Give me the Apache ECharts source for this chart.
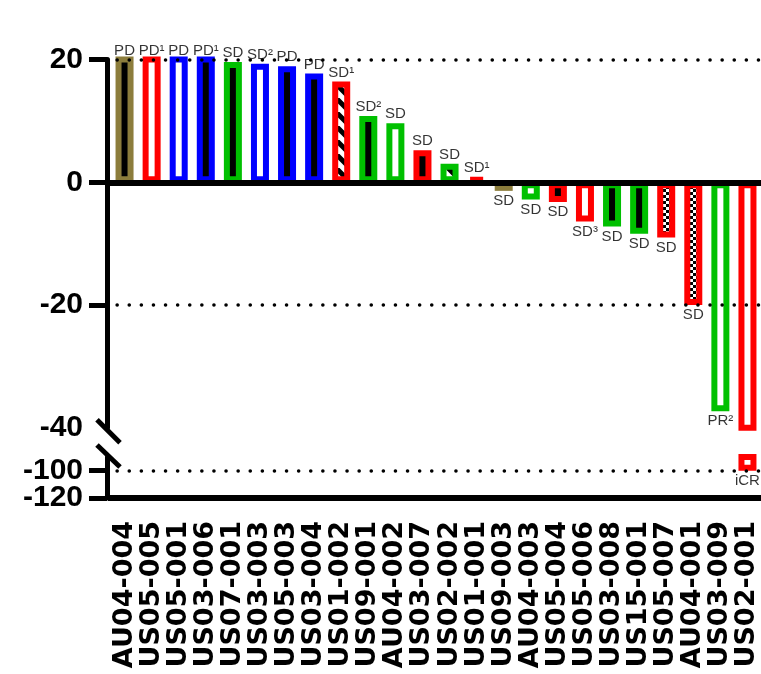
<!DOCTYPE html>
<html>
<head>
<meta charset="utf-8">
<script src="https://cdn.jsdelivr.net/npm/echarts@6/dist/echarts.min.js"></script>
<style>
  html, body { margin: 0; padding: 0; background: #fff; }
  #main { width: 761px; height: 674px; }
</style>
</head>
<body>
<div id="main"></div>
<script>
// patients, left to right
const patients = ['AU04-004', 'US05-005', 'US05-001', 'US03-006', 'US07-001', 'US03-003', 'US05-003', 'US03-004',
  'US01-002', 'US09-001', 'AU04-002', 'US03-007', 'US02-002', 'US01-001', 'US09-003', 'AU04-003',
  'US05-004', 'US05-006', 'US03-008', 'US15-001', 'US05-007', 'AU04-001', 'US03-009', 'US02-001']
// best change from baseline (%) - first four run past the top of the axis
const changes = [22, 22, 22, 22, 19.6, 19.3, 18.9, 17.7, 16.4, 10.8, 9.6, 5.2, 3.0, 0.8,
  -1.4, -2.8, -3.2, -6.4, -7.2, -8.4, -9.0, -20.0, -37.3, -100]
// response written at the end of each bar
const responses = ['PD', 'PD¹', 'PD', 'PD¹', 'SD', 'SD²', 'PD', 'PD', 'SD¹', 'SD²', 'SD', 'SD', 'SD', 'SD¹',
  'SD', 'SD', 'SD', 'SD³', 'SD', 'SD', 'SD', 'SD', 'PR²', 'iCR']
const upperTicks = [-40, -20, 0, 20]
const lowerTicks = [-120, -100]
const refLines = [20, -20, -100]

// bar styles
const OLIVE = '#8c7d3c'
const RED = '#ff0000'
const BLUE = '#0000ff'
const GREEN = '#00c000'
const edge = [OLIVE, RED, BLUE, BLUE, GREEN, BLUE, BLUE, BLUE, RED, GREEN, GREEN, RED, GREEN, RED,
  OLIVE, GREEN, RED, RED, GREEN, GREEN, RED, RED, GREEN, RED]
const fill = ['black', 'white', 'white', 'black', 'black', 'white', 'black', 'black', 'stripes', 'black', 'white', 'black', 'stripes', 'white',
  'black', 'white', 'black', 'white', 'black', 'black', 'checks', 'checks', 'white', 'white']

const GRID_LEFT = 111
const AXIS_OFFSET = 4
const UPPER = { min: -40, max: 20 }
const LOWER = { min: -120, max: -90 }

// canvas patterns for hatched / checkered bars
const makePattern = (kind) => {
  const c = document.createElement('canvas')
  if (kind === 'checks') {
    c.width = c.height = 6
    const g = c.getContext('2d')
    g.fillStyle = '#fff'
    g.fillRect(0, 0, 6, 6)
    g.fillStyle = '#000'
    g.fillRect(0, 0, 3, 3)
    g.fillRect(3, 3, 3, 3)
  } else {
    c.width = c.height = 14
    const g = c.getContext('2d')
    g.fillStyle = '#fff'
    g.fillRect(0, 0, 14, 14)
    g.strokeStyle = '#000'
    g.lineWidth = 5
    g.beginPath()
    for (let o = -14; o <= 14; o += 14) {
      g.moveTo(o, 0)
      g.lineTo(o + 14, 14)
    }
    g.stroke()
  }
  return { image: c, repeat: 'repeat' }
}
const fills = { black: '#000', white: '#fff', stripes: makePattern('stripes'), checks: makePattern('checks') }

const barData = changes.map((v, i) => ({
  value: v,
  itemStyle: { color: fills[fill[i]], borderColor: edge[i] }
}))

// label points: bars that end inside the upper part get their label there, the rest in the lower part
const labelPoints = (range) => {
  const out = []
  changes.forEach((v, i) => {
    const inUpper = v >= UPPER.min
    if ((range === UPPER) !== inUpper) return
    out.push({
      value: [i, Math.min(Math.max(v, range.min), range.max)],
      label: { position: v >= 0 ? 'top' : 'bottom', distance: v >= 0 ? 1 : 2 }
    })
  })
  return out
}

const dotted = (list, range) => ({
  silent: true,
  symbol: 'none',
  label: { show: false },
  lineStyle: { color: '#000', width: 3.5, type: [0.1, 12], cap: 'round', dashOffset: 6 },
  data: list.filter(v => v >= range.min && v <= range.max).map(v => ({ yAxis: v }))
})

const yAxisBase = (grid, range, ticks, showLine) => ({
  type: 'value',
  gridIndex: grid,
  position: 'left',
  min: range.min,
  max: range.max,
  interval: 10,
  offset: AXIS_OFFSET,
  splitLine: { show: false },
  axisLine: { show: showLine, lineStyle: { color: '#000', width: 5, cap: 'round' } },
  axisTick: { show: true, length: 18, customValues: ticks.filter(t => t !== -40), lineStyle: { color: '#000', width: 5 } },
  axisLabel: {
    customValues: ticks,
    margin: 24,
    color: '#000',
    fontFamily: 'Liberation Sans',
    fontWeight: 'bold',
    fontSize: 30
  }
})

const labelStyle = {
  show: true,
  color: '#000',
  fontFamily: 'Liberation Sans',
  fontSize: 15,
  formatter: (p) => responses[p.value[0]]
}

const myChart = echarts.init(document.getElementById('main'))
const option = {
  animation: false,
  backgroundColor: '#fff',
  grid: [
    { left: GRID_LEFT, width: 652, top: 59.5, height: 368.3 },
    { left: GRID_LEFT, width: 652, top: 457, height: 41 }
  ],
  xAxis: [
    {
      type: 'category',
      gridIndex: 0,
      data: patients,
      z: 10,
      axisLine: { onZero: true, lineStyle: { color: '#000', width: 6, cap: 'square' } },
      axisTick: { show: false },
      axisLabel: { show: false }
    },
    {
      type: 'category',
      gridIndex: 1,
      data: patients,
      position: 'bottom',
      z: 10,
      axisLine: { onZero: false, lineStyle: { color: '#000', width: 6, cap: 'square' } },
      axisTick: { alignWithLabel: true, length: 18, lineStyle: { color: '#000', width: 5, cap: 'round' } },
      axisLabel: {
        interval: 0,
        rotate: 90,
        margin: 23,
        color: '#000',
        fontFamily: 'DejaVu Sans',
        fontWeight: 'bold',
        fontSize: 27
      }
    }
  ],
  // the lower part gets one axis per tick so the close labels are both kept
  yAxis: [
    yAxisBase(0, UPPER, upperTicks, true),
    ...lowerTicks.map((t, k) => yAxisBase(1, LOWER, [t], k === 0))
  ],
  series: [
    {
      type: 'bar',
      xAxisIndex: 0,
      yAxisIndex: 0,
      data: barData,
      barWidth: 18,
      clip: true,
      itemStyle: { borderWidth: 6 },
      markLine: dotted(refLines, UPPER)
    },
    {
      type: 'bar',
      xAxisIndex: 1,
      yAxisIndex: 1,
      data: barData,
      barWidth: 18,
      clip: true,
      itemStyle: { borderWidth: 6 },
      markLine: dotted(refLines, LOWER)
    },
    {
      type: 'scatter',
      xAxisIndex: 0,
      yAxisIndex: 0,
      symbolSize: 1,
      clip: false,
      itemStyle: { color: 'rgba(0,0,0,0)' },
      label: labelStyle,
      data: labelPoints(UPPER),
      z: 20
    },
    {
      type: 'scatter',
      xAxisIndex: 1,
      yAxisIndex: 1,
      symbolSize: 1,
      clip: false,
      itemStyle: { color: 'rgba(0,0,0,0)' },
      label: labelStyle,
      data: labelPoints(LOWER),
      z: 20
    }
  ]
}
myChart.setOption(option)

// break marks on the y axis
const ax = GRID_LEFT - AXIS_OFFSET
const yUp = myChart.convertToPixel({ gridIndex: 0 }, [0, UPPER.min])[1]
const yLow = myChart.convertToPixel({ gridIndex: 1 }, [0, LOWER.max])[1]
myChart.setOption({
  graphic: [
    { type: 'line', z: 30, shape: { x1: ax - 10, y1: yUp - 8, x2: ax + 13, y2: yUp + 15 }, style: { stroke: '#000', lineWidth: 5 } },
    { type: 'line', z: 30, shape: { x1: ax - 10, y1: yLow - 12, x2: ax + 13, y2: yLow + 10 }, style: { stroke: '#000', lineWidth: 5 } }
  ]
})
</script>
</body>
</html>
